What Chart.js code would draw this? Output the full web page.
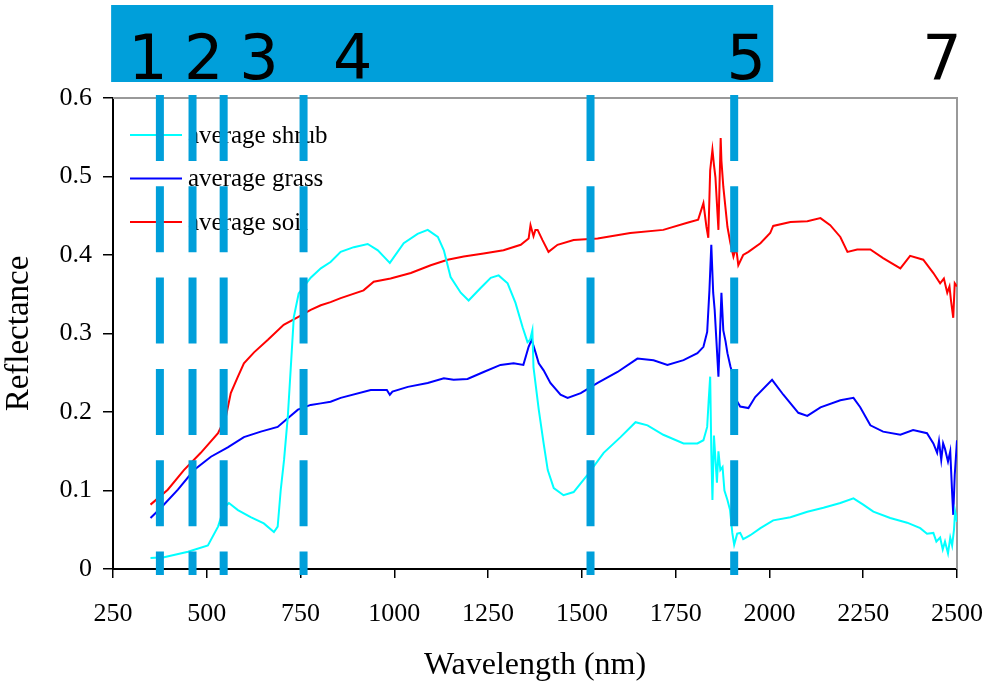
<!DOCTYPE html>
<html>
<head>
<meta charset="utf-8">
<script src="https://cdn.jsdelivr.net/npm/chart.js@4.4.1/dist/chart.umd.min.js"></script>
<style>
  body { margin: 0; background: #fff; }
  #wrap { width: 987px; height: 685px; }
</style>
</head>
<body>
<div id="wrap"><canvas id="specChart" width="987" height="685"></canvas></div>
<script>
// spectra: wavelength (nm) and reflectance
const shrubNm = [350, 386, 450, 503, 530, 546, 559, 583, 617, 652, 679, 689, 697, 706, 716, 724, 732, 745, 777, 804, 830, 857, 892, 929, 956, 972, 988, 1025, 1062, 1089, 1116, 1132, 1150, 1177, 1198, 1230, 1257, 1278, 1302, 1323, 1342, 1355, 1362, 1368, 1371, 1385, 1398, 1409, 1425, 1451, 1478, 1515, 1558, 1603, 1643, 1675, 1717, 1771, 1808, 1824, 1834, 1838, 1842, 1845, 1848, 1852, 1856, 1860, 1864, 1869, 1875, 1880, 1888, 1895, 1901, 1906, 1914, 1922, 1930, 1941, 1949, 1976, 2010, 2056, 2101, 2144, 2189, 2224, 2250, 2277, 2322, 2367, 2402, 2420, 2437, 2445, 2455, 2462, 2468, 2476, 2482, 2487, 2492, 2495, 2500];
const shrubRefl = [0.014, 0.015, 0.022, 0.030, 0.054, 0.078, 0.084, 0.075, 0.066, 0.058, 0.047, 0.054, 0.100, 0.139, 0.194, 0.257, 0.321, 0.351, 0.371, 0.383, 0.391, 0.404, 0.410, 0.414, 0.406, 0.398, 0.390, 0.415, 0.427, 0.432, 0.423, 0.406, 0.372, 0.352, 0.342, 0.358, 0.371, 0.374, 0.364, 0.339, 0.308, 0.289, 0.292, 0.304, 0.257, 0.203, 0.160, 0.126, 0.103, 0.094, 0.098, 0.120, 0.148, 0.168, 0.187, 0.183, 0.171, 0.160, 0.160, 0.164, 0.181, 0.215, 0.245, 0.150, 0.088, 0.170, 0.140, 0.110, 0.150, 0.126, 0.130, 0.100, 0.088, 0.075, 0.046, 0.031, 0.045, 0.046, 0.038, 0.041, 0.043, 0.052, 0.062, 0.066, 0.073, 0.078, 0.084, 0.090, 0.082, 0.073, 0.065, 0.059, 0.052, 0.045, 0.046, 0.035, 0.040, 0.025, 0.035, 0.020, 0.040, 0.030, 0.050, 0.073, 0.060];

const grassNm = [350, 378, 423, 466, 511, 556, 599, 644, 689, 716, 743, 777, 804, 830, 857, 937, 980, 988, 995, 1036, 1089, 1132, 1158, 1195, 1238, 1283, 1318, 1344, 1358, 1366, 1377, 1385, 1398, 1416, 1443, 1462, 1497, 1542, 1595, 1648, 1691, 1728, 1771, 1808, 1824, 1834, 1840, 1845, 1850, 1854, 1858, 1864, 1872, 1877, 1883, 1888, 1896, 1904, 1912, 1922, 1944, 1962, 2007, 2037, 2077, 2101, 2136, 2189, 2224, 2242, 2269, 2303, 2349, 2383, 2420, 2437, 2447, 2452, 2458, 2463, 2468, 2476, 2482, 2487, 2490, 2494, 2500];
const grassRefl = [0.065, 0.078, 0.101, 0.126, 0.143, 0.155, 0.168, 0.175, 0.181, 0.192, 0.203, 0.209, 0.211, 0.213, 0.218, 0.228, 0.228, 0.222, 0.226, 0.232, 0.237, 0.243, 0.241, 0.242, 0.251, 0.260, 0.262, 0.260, 0.283, 0.292, 0.275, 0.262, 0.253, 0.237, 0.222, 0.218, 0.224, 0.237, 0.251, 0.268, 0.266, 0.260, 0.266, 0.275, 0.283, 0.302, 0.355, 0.413, 0.352, 0.330, 0.296, 0.245, 0.352, 0.304, 0.290, 0.275, 0.258, 0.245, 0.215, 0.207, 0.205, 0.219, 0.241, 0.222, 0.199, 0.195, 0.206, 0.215, 0.218, 0.206, 0.183, 0.175, 0.171, 0.177, 0.173, 0.160, 0.148, 0.163, 0.139, 0.160, 0.153, 0.137, 0.150, 0.097, 0.069, 0.120, 0.164];

const soilNm = [350, 396, 439, 484, 530, 551, 564, 583, 599, 626, 663, 705, 743, 777, 804, 830, 857, 918, 945, 990, 1044, 1097, 1142, 1185, 1238, 1291, 1337, 1358, 1363, 1371, 1376, 1382, 1395, 1411, 1435, 1478, 1542, 1629, 1717, 1781, 1810, 1824, 1832, 1837, 1842, 1848, 1852, 1856, 1864, 1870, 1872, 1877, 1888, 1896, 1904, 1911, 1917, 1930, 1944, 1976, 2002, 2010, 2056, 2101, 2136, 2162, 2189, 2208, 2234, 2269, 2303, 2349, 2375, 2410, 2437, 2455, 2465, 2474, 2480, 2484, 2490, 2494, 2500];
const soilRefl = [0.082, 0.101, 0.126, 0.148, 0.173, 0.194, 0.224, 0.245, 0.262, 0.276, 0.292, 0.311, 0.321, 0.330, 0.336, 0.340, 0.345, 0.355, 0.366, 0.370, 0.377, 0.387, 0.394, 0.398, 0.402, 0.406, 0.413, 0.421, 0.438, 0.424, 0.432, 0.432, 0.419, 0.404, 0.413, 0.419, 0.421, 0.428, 0.432, 0.441, 0.445, 0.466, 0.436, 0.422, 0.508, 0.534, 0.515, 0.499, 0.432, 0.549, 0.520, 0.487, 0.436, 0.415, 0.398, 0.410, 0.387, 0.400, 0.404, 0.415, 0.428, 0.437, 0.442, 0.443, 0.447, 0.438, 0.423, 0.404, 0.407, 0.407, 0.396, 0.383, 0.399, 0.394, 0.377, 0.364, 0.370, 0.352, 0.360, 0.342, 0.320, 0.364, 0.360];

const seriesNames = ['average shrub', 'average grass', 'average soil'];
const seriesColors = ['#00FFFF', '#0000FF', '#FF0000'];

// band edges (dashed lines) and the band numbers on the banner
const bandEdges = [375, 462, 545, 758, 1523, 1906];
const bandLabels = ['1', '2', '3', '4', '5', '7'];
const bandLabelNm = [343, 492, 639, 889, 1938, 2460];
const bannerNm = [245, 2010];

const xTicks = [250, 500, 750, 1000, 1250, 1500, 1750, 2000, 2250, 2500];

const BAND_BLUE = '#009FDA';

function toPoints(xs, ys) {
    return xs.map((x, i) => ({ x: x, y: ys[i] }));
}

// frame, banner, legend and dashed band lines
const decorPlugin = {
    id: 'decor',
    beforeDatasetsDraw(chart) {
        const { ctx, chartArea } = chart;
        ctx.save();
        ctx.strokeStyle = '#999';
        ctx.lineWidth = 2;
        ctx.beginPath();
        ctx.moveTo(chartArea.left, chartArea.top);
        ctx.lineTo(chartArea.right, chartArea.top);
        ctx.lineTo(chartArea.right, chartArea.bottom);
        ctx.stroke();
        ctx.restore();
    },
    afterDatasetsDraw(chart) {
        const { ctx, chartArea } = chart;
        ctx.save();
        ctx.font = '25px "Liberation Serif", "Times New Roman", serif';
        ctx.textBaseline = 'middle';
        ctx.textAlign = 'left';
        chart.data.datasets.forEach((ds, i) => {
            const y = chartArea.top + 37 + i * 43.5;
            ctx.strokeStyle = ds.borderColor;
            ctx.lineWidth = 2;
            ctx.beginPath();
            ctx.moveTo(chartArea.left + 17, y);
            ctx.lineTo(chartArea.left + 69, y);
            ctx.stroke();
            ctx.fillStyle = '#000';
            ctx.fillText(ds.label, chartArea.left + 75, y + 1);
        });
        ctx.restore();
    },
    afterDraw(chart) {
        const { ctx } = chart;
        const xs = chart.scales.x, ys = chart.scales.y;
        ctx.save();
        // banner
        const bx0 = xs.getPixelForValue(bannerNm[0]);
        const bx1 = xs.getPixelForValue(bannerNm[1]);
        ctx.fillStyle = BAND_BLUE;
        ctx.fillRect(bx0, 5, bx1 - bx0, 77);
        ctx.fillStyle = '#000';
        ctx.font = '62px "DejaVu Sans", Verdana, sans-serif';
        ctx.textAlign = 'center';
        ctx.textBaseline = 'alphabetic';
        bandLabels.forEach((t, i) => {
            ctx.fillText(t, xs.getPixelForValue(bandLabelNm[i]), 79);
        });
        // dashed band edges
        const top = ys.getPixelForValue(0.6) - 3;
        const bottom = ys.getPixelForValue(0) + 6;
        ctx.strokeStyle = BAND_BLUE;
        ctx.lineWidth = 8;
        ctx.setLineDash([66, 25.3]);
        bandEdges.forEach(nm => {
            const x = xs.getPixelForValue(nm);
            ctx.beginPath();
            ctx.moveTo(x, top);
            ctx.lineTo(x, bottom);
            ctx.stroke();
        });
        ctx.restore();
    }
};

const serif = '"Liberation Serif", "Times New Roman", serif';

const chart = new Chart(document.getElementById('specChart'), {
    type: 'line',
    data: {
        datasets: [
            { label: seriesNames[0], data: toPoints(shrubNm, shrubRefl), borderColor: seriesColors[0] },
            { label: seriesNames[1], data: toPoints(grassNm, grassRefl), borderColor: seriesColors[1] },
            { label: seriesNames[2], data: toPoints(soilNm, soilRefl), borderColor: seriesColors[2] }
        ]
    },
    options: {
        responsive: false,
        animation: false,
        layout: { padding: { top: 98, right: 30, left: 0, bottom: 0 } },
        elements: {
            line: { borderWidth: 2, tension: 0 },
            point: { radius: 0 }
        },
        plugins: {
            legend: { display: false },
            tooltip: { enabled: false }
        },
        scales: {
            x: {
                type: 'linear',
                min: 250,
                max: 2500,
                afterBuildTicks: s => { s.ticks = xTicks.map(v => ({ value: v })); },
                afterFit: s => {
                    s.height = 116;
                    s.paddingLeft = 0;
                    s.paddingRight = 0;
                },
                ticks: {
                    color: '#000',
                    font: { family: serif, size: 26 },
                    padding: 21,
                    maxRotation: 0,
                    callback: v => String(v)
                },
                grid: { drawOnChartArea: false, drawTicks: true, tickLength: 9, color: '#000', lineWidth: 1.5 },
                border: { color: '#000', width: 2 },
                title: { display: true, text: 'Wavelength (nm)', color: '#000', font: { family: serif, size: 32 }, padding: { top: 0, bottom: 0 } }
            },
            y: {
                min: 0,
                max: 0.6,
                ticks: { stepSize: 0.1, color: '#000', font: { family: serif, size: 26 }, padding: 11 },
                afterFit: s => {
                    s.width = 113;
                    s.paddingTop = 0;
                    s.paddingBottom = 0;
                },
                grid: { drawOnChartArea: false, drawTicks: true, tickLength: 10, color: '#000', lineWidth: 1.5 },
                border: { color: '#000', width: 2 },
                title: { display: true, text: 'Reflectance', color: '#000', font: { family: serif, size: 33 }, padding: { top: 0, bottom: 0 } }
            }
        }
    },
    plugins: [decorPlugin]
});
</script>
</body>
</html>
